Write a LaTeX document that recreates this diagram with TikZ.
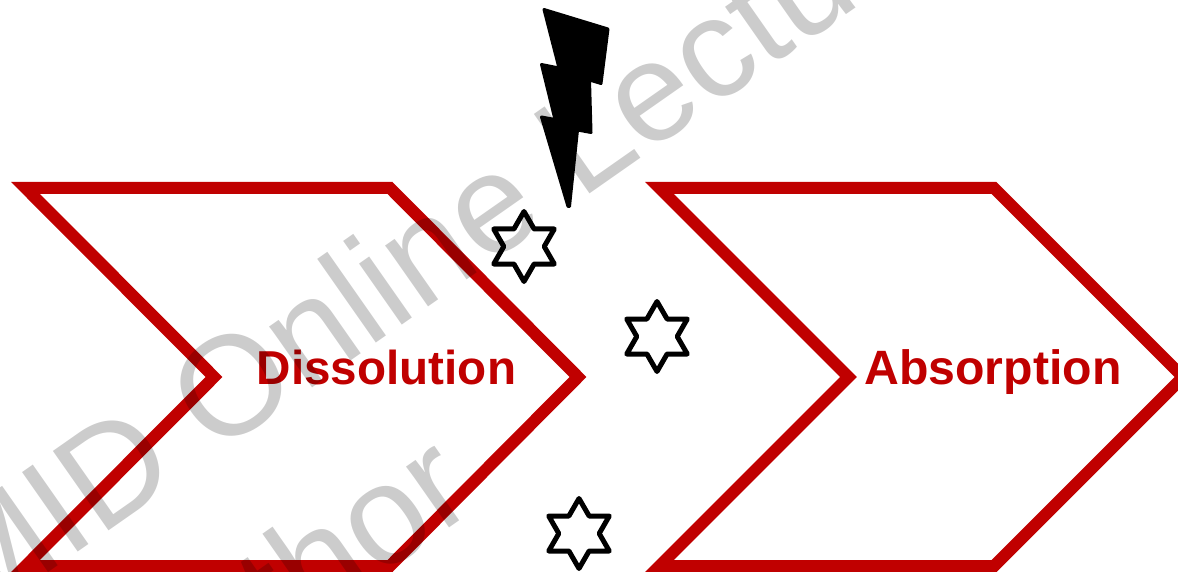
\documentclass[tikz,border=0pt]{standalone}
\usepackage{fontspec}
\setmainfont{Liberation Sans}
\definecolor{chevred}{HTML}{C00000}
\tikzset{
  chev/.style={draw=chevred,line width=12pt,miter limit=10,line join=miter},
  chevlabel/.style={text=chevred,font=\fontsize{47.6}{50}\selectfont\bfseries,inner sep=0pt,anchor=base},
  starshape/.style={draw=black,line width=5pt,line join=round,fill=white},
  bolt/.style={fill=black,draw=black,line width=3pt,line join=round},
  wmark/.style={text=black,text opacity=0.2,font=\fontsize{141}{143}\selectfont,inner sep=0pt,anchor=base west,rotate=35},
}
\newcommand{\hexstar}[2]{%
  \draw[starshape] (#1,#2-35) -- (#1+10.1,#2-17.5) -- (#1+30.3,#2-17.5) -- (#1+20.2,#2) -- (#1+30.3,#2+17.5) -- (#1+10.1,#2+17.5) -- (#1,#2+35) -- (#1-10.1,#2+17.5) -- (#1-30.3,#2+17.5) -- (#1-20.2,#2) -- (#1-30.3,#2-17.5) -- (#1-10.1,#2-17.5) -- cycle;}
\begin{document}
\begin{tikzpicture}[x=1pt,y=-1pt]
\useasboundingbox (0,0) rectangle (1178,572);
\clip (0,0) rectangle (1178,572);
\draw[chev] (25.5,188) -- (390,188) -- (578,377) -- (390,566) -- (25.5,566) -- (214,377) -- cycle;
\draw[chev] (659.5,188) -- (994,188) -- (1183,377) -- (994,566) -- (659.5,566) -- (848.5,377) -- cycle;
\node[chevlabel] (diss) at (386.5,384) {Dissolution};
\node[chevlabel,font=\fontsize{48.2}{50}\selectfont\bfseries] (abso) at (993,384) {Absorption};
\hexstar{524}{246.5}
\hexstar{657}{336.5}
\hexstar{579}{533.5}
\draw[bolt] (544,9.5) -- (608,29) -- (601,83.5) -- (589.5,80) -- (591,132.5) -- (577.5,130) -- (569.5,206.5) -- (568,206.5) -- (541.5,117) -- (555,119.5) -- (541.5,64.5) -- (559,68) -- cycle;
\node[wmark] (wm1) at (-29,627) {MID Online Lecture};
\node[wmark] (wm2) at (140,745) {Author};
\end{tikzpicture}
\end{document}
